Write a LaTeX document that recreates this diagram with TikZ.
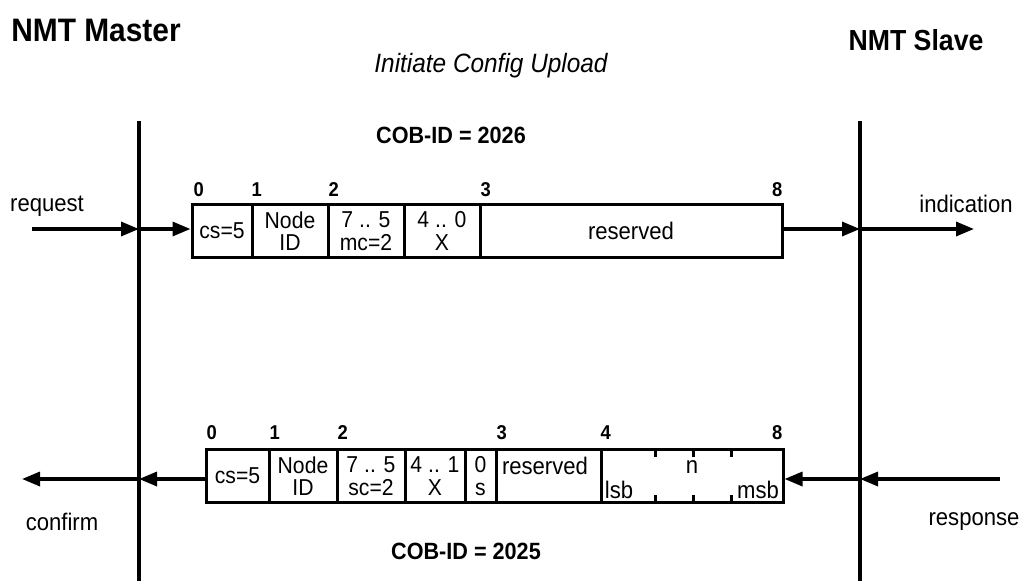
\documentclass[tikz,border=0pt]{standalone}
\usepackage{fontspec}
\setmainfont[FakeStretch=0.92]{Liberation Sans}
\usetikzlibrary{arrows.meta}
\begin{document}
\begin{tikzpicture}[x=1pt,y=-1pt,
  line width=3.3pt,
  cell/.style={draw,line width=3pt,inner sep=0pt,minimum height=53pt,align=center,font=\fontsize{23}{22.5}\selectfont},
  txt/.style={inner sep=0pt,font=\fontsize{24}{21}\selectfont},
  idx/.style={inner sep=0pt,font=\bfseries\fontsize{20}{20}\selectfont},
  arr/.style={line width=3.3pt,-{Triangle[length=18pt,width=14pt]}},
  tick/.style={line width=3pt}
]
\useasboundingbox (0,0) rectangle (1023,581);
% titles
\node[inner sep=0pt,font=\bfseries\fontsize{32.5}{32}\selectfont] (master) at (96,30) {NMT Master};
\node[inner sep=0pt,font=\bfseries\fontsize{29}{29}\selectfont] (slave) at (916,40) {NMT Slave};
\node[inner sep=0pt,font=\itshape\fontsize{26.5}{26}\selectfont] (ttl) at (491,66) {Initiate Config Upload};
\node[inner sep=0pt,font=\bfseries\fontsize{23.5}{23}\selectfont] (cob1) at (451,135) {COB-ID = 2026};
\node[inner sep=0pt,font=\bfseries\fontsize{23.5}{23}\selectfont] (cob2) at (466,551) {COB-ID = 2025};
% lifelines
\coordinate (mTop) at (139,121);
\coordinate (mBot) at (139,581);
\coordinate (sTop) at (860,121);
\coordinate (sBot) at (860,581);
\draw (mTop) -- (mBot);
\draw (sTop) -- (sBot);
% top frame
\node[cell,minimum width=60pt] (t0) at (222,231) {cs=5};
\node[cell,minimum width=76pt] (t1) at (290,231) {Node\\ID};
\node[cell,minimum width=76pt] (t2) at (366,231) {7 .. 5\\mc=2};
\node[cell,minimum width=76pt] (t3) at (442,231) {4 .. 0\\X};
\node[cell,minimum width=302pt,font=\fontsize{24}{21}\selectfont] (t4) at (631,231) {reserved};
\node[idx,anchor=west] (ti0) at (192,190) {0};
\node[idx,anchor=west] (ti1) at (250,190) {1};
\node[idx,anchor=west] (ti2) at (327,190) {2};
\node[idx,anchor=west] (ti3) at (479,190) {3};
\node[idx,anchor=east] (ti8) at (784,190) {8};
% bottom frame
\node[cell,minimum width=63pt] (b0) at (237.5,476) {cs=5};
\node[cell,minimum width=68pt] (b1) at (303,476) {Node\\ID};
\node[cell,minimum width=68pt] (b2) at (371,476) {7 .. 5\\sc=2};
\node[cell,minimum width=60pt] (b3) at (435,476) {4 .. 1\\X};
\node[cell,minimum width=31pt] (b4) at (480.5,476) {0\\s};
\node[cell,minimum width=105pt] (b5) at (548.5,476) {};
\node[txt] (b5t) at (545,466) {reserved};
\node[cell,minimum width=182pt] (b6) at (692,476) {};
\node[txt] (lsb) at (619,490) {lsb};
\node[txt] (nn) at (692,467) {n};
\node[txt] (msb) at (758,490) {msb};
\foreach \x in {655,693,731}{
  \draw[tick] (\x,450) -- (\x,457);
  \draw[tick] (\x,495) -- (\x,502);
}
\node[idx,anchor=west] (bi0) at (205,433) {0};
\node[idx,anchor=west] (bi1) at (268,433) {1};
\node[idx,anchor=west] (bi2) at (336,433) {2};
\node[idx,anchor=west] (bi3) at (495,433) {3};
\node[idx,anchor=west] (bi4) at (599,433) {4};
\node[idx,anchor=east] (bi8) at (784,433) {8};
% arrows top
\coordinate (reqS) at (32,229);
\coordinate (mReq) at (139,229);
\coordinate (sInd) at (860,229);
\coordinate (indE) at (974,229);
\draw[arr] (reqS) -- (mReq);
\draw[arr] (mReq) -- (t0.west |- mReq);
\draw[arr] (t4.east |- sInd) -- (sInd);
\draw[arr] (sInd) -- (indE);
\node[txt] (req) at (47,206) {request};
\node[txt] (ind) at (966,204) {indication};
% arrows bottom
\coordinate (cfE) at (22,479);
\coordinate (mCf) at (139,479);
\coordinate (sRsp) at (860,479);
\coordinate (rspS) at (1000,479);
\draw[arr] (b0.west |- mCf) -- (mCf);
\draw[arr] (mCf) -- (cfE);
\draw[arr] (rspS) -- (sRsp);
\draw[arr] (sRsp) -- (b6.east |- sRsp);
\node[txt] (cf) at (62,522) {confirm};
\node[txt] (rsp) at (974,522) {response};
\end{tikzpicture}
\end{document}
